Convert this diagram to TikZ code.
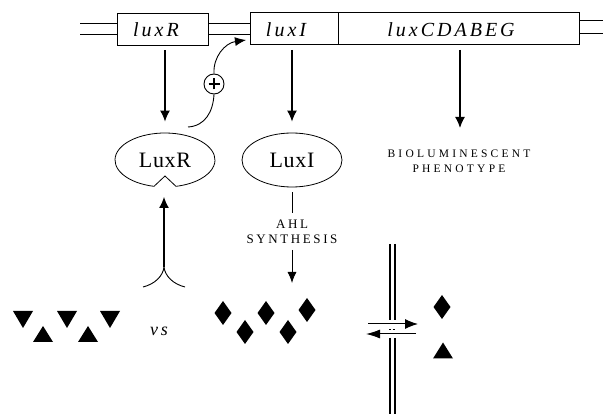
\documentclass[tikz,border=0pt]{standalone}
\usepackage{fontspec}
\setmainfont{Liberation Serif}
\newfontfamily\genefam[LetterSpace=15]{Liberation Serif}
\newfontfamily\protfam[LetterSpace=3]{Liberation Serif}
\newfontfamily\ahlfam[LetterSpace=20]{Liberation Serif}
\newfontfamily\biofam[LetterSpace=28]{Liberation Serif}
\usetikzlibrary{arrows.meta,shapes.geometric}
\begin{document}
\begin{tikzpicture}[x=1pt,y=-1pt,
  genebox/.style={draw, line width=0.8pt, rectangle, inner sep=0pt, minimum height=32pt},
  genelbl/.style={inner sep=0pt, font=\genefam\itshape\fontsize{20}{20}\selectfont},
  dna/.style={line width=0.8pt},
  prot/.style={ellipse, inner sep=0pt, minimum width=100pt, minimum height=54pt, line width=0.8pt, font=\protfam\fontsize{22}{22}\selectfont},
  thick arrow/.style={line width=1.4pt, -{Latex[length=11pt,width=10pt]}},
  thin arrow/.style={line width=0.9pt, -{Latex[length=11pt,width=9pt]}},
  thinline/.style={line width=0.9pt},
  smallcaps/.style={inner sep=0pt, align=center},
  membrane/.style={line width=1.3pt},
  pics/dmd/.style={code={\fill (0,-12) -- (8.5,0) -- (0,12) -- (-8.5,0) -- cycle;}},
  pics/tridown/.style={code={\fill (-10,-8.5) -- (10,-8.5) -- (0,8.5) -- cycle;}},
  pics/triup/.style={code={\fill (-10,8) -- (10,8) -- (0,-8) -- cycle;}}
]
\useasboundingbox (0,0) rectangle (603,414);
\fill[white] (0,0) rectangle (603,414);

% genes
\node[genebox, minimum width=91pt] (luxRbox) at (162.5,29) {};
\node[genebox, minimum width=88pt] (luxIbox) at (294,28.5) {};
\node[genebox, minimum width=241pt] (luxCbox) at (458.5,28.5) {};
\node[genelbl] (luxRlbl) at (156,30) {luxR};
\node[genelbl] (luxIlbl) at (286,30) {luxI};
\node[genelbl] (luxClbl) at (451,30) {luxCDABEG};

% DNA strands
\coordinate (dnaL1) at (80,23);
\coordinate (dnaL2) at (80,34);
\coordinate (dnaR1) at (603,20);
\coordinate (dnaR2) at (603,33);
\draw[dna] (dnaL1) -- ([yshift=6pt]luxRbox.west);
\draw[dna] (dnaL2) -- ([yshift=-5pt]luxRbox.west);
\draw[dna] ([yshift=6pt]luxRbox.east) -- ([yshift=6pt]luxRbox.east -| luxIbox.west);
\draw[dna] ([yshift=-5pt]luxRbox.east) -- ([yshift=-5pt]luxRbox.east -| luxIbox.west);
\draw[dna] ([yshift=8.5pt]luxCbox.east) -- (dnaR1);
\draw[dna] ([yshift=-4.5pt]luxCbox.east) -- (dnaR2);

% proteins
\node[prot] (LuxR) at (165,160) {LuxR};
\draw[line width=0.8pt] (154,186.34) arc[start angle=102.7, end angle=437.3, x radius=50, y radius=27] -- (165,176) -- cycle;
\node[prot, draw] (LuxI) at (292,160) {LuxI};

% gene -> protein arrows
\draw[thick arrow, shorten <=5pt, shorten >=11pt] (LuxR.north |- luxRbox.south) -- (LuxR.north);
\draw[thick arrow, shorten <=5pt, shorten >=11pt] (LuxI.north |- luxIbox.south) -- (LuxI.north);
\node[smallcaps, font=\biofam\fontsize{11.5}{15}\selectfont] (bio) at (459,161.5) {BIOLUMINESCENT\\PHENOTYPE};
\coordinate (bioTip) at (460,128);
\draw[thick arrow, shorten <=5pt] (bioTip |- luxCbox.south) -- (bioTip);

% positive autoregulation
\node[circle, draw, line width=0.9pt, minimum size=20pt, inner sep=0pt] (plus) at (214,84) {};
\draw[line width=1.4pt] ([xshift=-5.5pt]plus.center) -- ([xshift=5.5pt]plus.center);
\draw[line width=1.4pt] ([yshift=-5.5pt]plus.center) -- ([yshift=5.5pt]plus.center);
\coordinate (actStart) at (188,127);
\coordinate (tipI) at (246,40);
\draw[thinline] (actStart) .. controls (205,126) and (213,112) .. (plus.south);
\draw[thinline, -{Latex[length=11pt,width=9pt]}] (plus.north) .. controls (213,57) and (225,43) .. (tipI);

% AHL synthesis
\node[smallcaps, font=\ahlfam\fontsize{13}{15}\selectfont] (ahl) at (292,231.5) {AHL\\SYNTHESIS};
\draw[thinline, shorten <=5pt] (LuxI.south) -- (292,213);
\coordinate (ahlTip) at (292,283);
\draw[thin arrow] (ahl.south |- 0,250) -- (ahlTip);

% receptor
\coordinate (rcpt) at (164,267);
\coordinate (rcptTip) at (164,197);
\draw[thinline] (143,287) .. controls (155,284) and (163,276) .. (rcpt) .. controls (165,276) and (173,284) .. (185,287);
\draw[line width=1.2pt, -{Latex[length=11pt,width=10pt]}] (rcpt) -- (rcptTip);

% triangles (3-oxo-C6 analogue)
\foreach \x in {23,67,110} \pic at (\x,319.5) {tridown};
\foreach \x in {43,88} \pic at (\x,334) {triup};
\node[inner sep=0pt, font=\genefam\itshape\fontsize{18}{18}\selectfont] (vs) at (159,331) {vs};

% diamonds (AHL)
\pic at (223,313) {dmd};
\pic at (245,332) {dmd};
\pic at (266,313) {dmd};
\pic at (288,332) {dmd};
\pic at (307,310) {dmd};

% membrane
\draw[membrane] (390,244) -- (390,320);
\draw[membrane] (395,244) -- (395,320);
\draw[membrane] (390,338) -- (390,414);
\draw[membrane] (395,338) -- (395,414);
\draw[line width=1pt, -{Latex[length=13pt,width=10pt]}] (368,324) -- (418,324);
\draw[line width=1pt, -{Latex[length=14pt,width=9pt]}] (416,334) -- (366,334);
\draw[line width=0.6pt, dash pattern=on 2pt off 1.5pt] (389,329) -- (396,329);

% outside
\pic at (442,307) {dmd};
\pic at (443,350.5) {triup};
\end{tikzpicture}
\end{document}
